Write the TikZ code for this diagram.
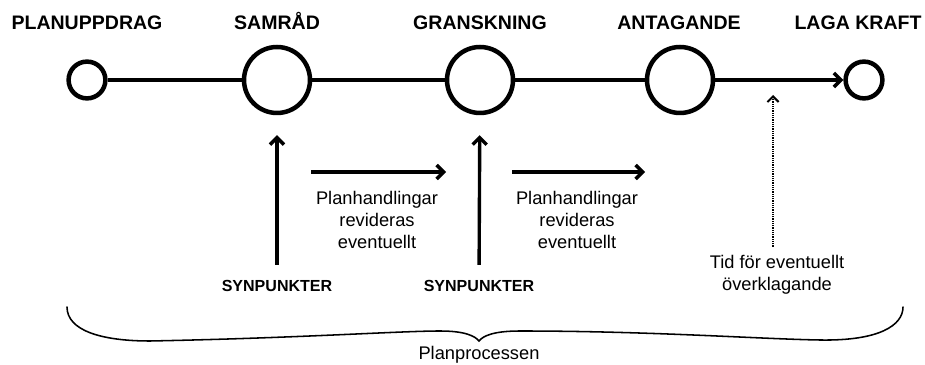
\documentclass[tikz,border=0pt]{standalone}
\usepackage{fontspec}
\setmainfont{Liberation Sans}
\usetikzlibrary{arrows.meta}

\begin{document}
\begin{tikzpicture}[
  stage/.style={circle,draw,line width=3.2pt,minimum size=1.65cm,inner sep=0pt},
  endstage/.style={stage,minimum size=0.92cm},
  head/.style={font=\fontsize{13.9}{16}\selectfont\bfseries,anchor=base},
  syn/.style={font=\fontsize{11.4}{13}\selectfont\bfseries,inner sep=0pt},
  txt/.style={font=\fontsize{13}{15.6}\selectfont,align=center},
  tl/.style={line width=2.5pt},
  arr/.style={line width=2.4pt,-{Straight Barb[length=5pt,width=10pt]}},
  dotarr/.style={line width=1.9pt,dash pattern=on 0.8pt off 0.8pt,
    -{Straight Barb[length=4pt,width=8pt,line width=1.4pt]}},
]
  \useasboundingbox (0,0) rectangle (23.125,9.125);
  % stages
  \node[endstage] (planuppdrag) at (2.175,7.125) {};
  \node[stage] (samrad) at (6.925,7.125) {};
  \node[stage] (granskning) at (12.0,7.125) {};
  \node[stage] (antagande) at (17.0,7.125) {};
  \node[endstage] (lagakraft) at (21.6,7.125) {};
  \node[head] (lblplan) at (2.175,8.39) {PLANUPPDRAG};
  \node[head] (lblsam) at (6.925,8.39) {SAMRÅD};
  \node[head] (lblgran) at (12.0,8.39) {GRANSKNING};
  \node[head] (lblant) at (16.975,8.39) {ANTAGANDE};
  \node[head] (lbllaga) at (21.45,8.39) {LAGA KRAFT};
  \draw[tl] (planuppdrag) -- (samrad);
  \draw[tl] (samrad) -- (granskning);
  \draw[tl] (granskning) -- (antagande);
  \draw[arr,line width=2.5pt] (antagande) -- (lagakraft);
  % synpunkter
  \node[syn] (syn1) at (6.925,1.975) {SYNPUNKTER};
  \node[syn] (syn2) at (11.975,1.975) {SYNPUNKTER};
  \draw[arr,shorten <=0.38cm,shorten >=0.5cm] (syn1) -- (samrad);
  \draw[arr,shorten <=0.38cm,shorten >=0.5cm] (syn2) -- (granskning);
  % revideras
  \node[txt] (rev1) at (9.425,3.625) {Planhandlingar\\revideras\\eventuellt};
  \node[txt] (rev2) at (14.425,3.625) {Planhandlingar\\revideras\\eventuellt};
  \coordinate (h1a) at (7.775,4.825);
  \coordinate (h1b) at (11.15,4.825);
  \coordinate (h2a) at (12.8,4.825);
  \coordinate (h2b) at (16.125,4.825);
  \draw[arr] (h1a) -- (h1b);
  \draw[arr] (h2a) -- (h2b);
  % overklagande
  \coordinate (tidtop) at (19.325,6.75);
  \node[txt] (tid) at (19.425,2.25) {Tid för eventuellt\\överklagande};
  \draw[dotarr,shorten <=0.1cm] (tid.north -| tidtop) -- (tidtop);
  % brace
  \draw[line width=1.1pt,line cap=round] (1.675,1.45)
    .. controls (1.675,0.875) and (2.5,0.6) .. (3.75,0.6)
    .. controls (7.5,0.675) and (10.0,0.85) .. (11.0,0.85)
    .. controls (11.625,0.85) and (11.875,0.725) .. (11.975,0.6)
    .. controls (12.075,0.725) and (12.325,0.85) .. (13.0,0.85)
    .. controls (16.25,0.85) and (19.0,0.65) .. (20.5,0.625)
    .. controls (22.0,0.6) and (22.575,1.0) .. (22.575,1.45);
  \node[txt] (pp) at (11.975,0.25) {Planprocessen};
\end{tikzpicture}
\end{document}
